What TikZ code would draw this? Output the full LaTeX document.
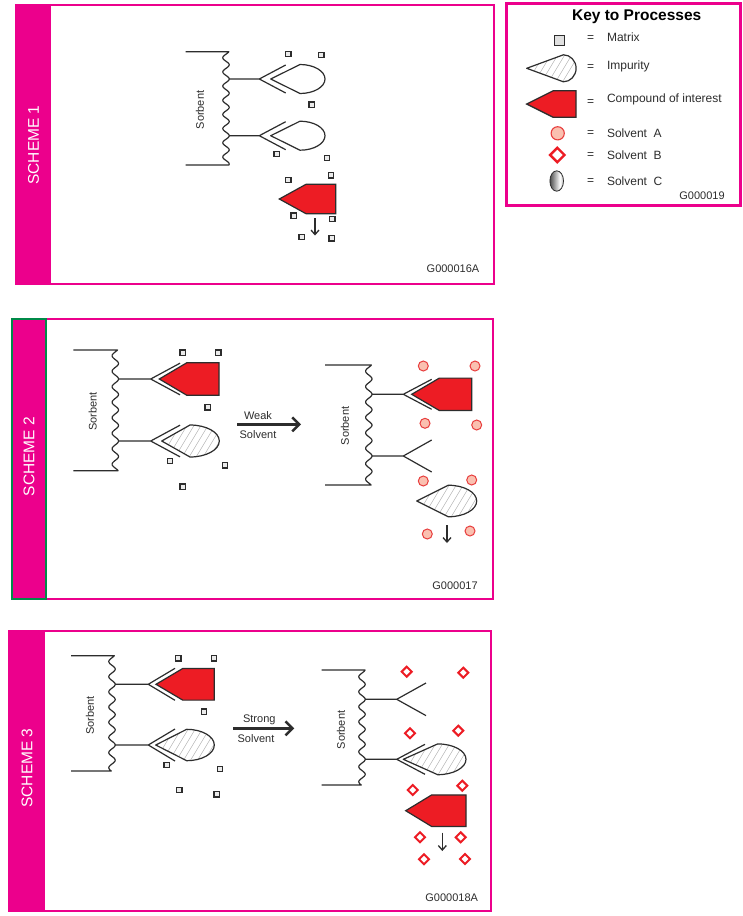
\documentclass[tikz,border=0pt]{standalone}
\usepackage{fontspec}
\setmainfont{Liberation Sans}
\usetikzlibrary{arrows.meta}

\definecolor{schemepink}{RGB}{236,0,140}
\definecolor{bandgreen}{RGB}{0,138,72}
\definecolor{cmpred}{RGB}{237,28,36}
\definecolor{solvafill}{RGB}{250,192,176}
\definecolor{solvaline}{RGB}{232,62,62}
\definecolor{inkgray}{RGB}{45,45,45}

\pgfdeclarehorizontalshading{solvc}{100bp}{color(0bp)=(black!85); color(25bp)=(black!70); color(62bp)=(white); color(85bp)=(black!45); color(100bp)=(black!75)}

\newcommand\setfs[1]{\fontsize{#1}{#1}\selectfont}

% sorbent wall: #1 left x, #2 wave centre x, #3 top y, #4 bottom y, #5 upper arm y, #6 lower arm y
\newcommand\sorbentwall[6]{%
  \pgfmathsetmacro\wavek{360*4/(#6-#5)}%
  \draw[chain] (#1,#3) -- ({#2+3.2*cos(\wavek*(#3-#5))},#3)
    -- plot[domain=#3:#4, samples=160, variable=\t] ({#2+3.2*cos(\wavek*(\t-#5))},\t)
    -- (#1,#4);
}
% binding site: #1 arm start x, #2 y, #3 fork tip x, #4 fork dx, #5 fork dy
\newcommand\bindsite[5]{%
  \draw[chain] (#1,#2) -- (#3,#2) (#3+#4,#2-#5) -- (#3,#2) -- (#3+#4,#2+#5);
}
% impurity teardrop: #1,#2 tip, #3 straight length, #4 half height, #5 round length, #6 hatched (1/0)
\newcommand\teardrop[6]{%
  \ifnum#6=1
  \begin{scope}
    \clip (#1,#2) -- (#1+#3,#2-#4) .. controls (#1+#3+0.552*#5,#2-#4) and (#1+#3+#5,#2-0.552*#4) .. (#1+#3+#5,#2)
      .. controls (#1+#3+#5,#2+0.552*#4) and (#1+#3+0.552*#5,#2+#4) .. (#1+#3,#2+#4) -- cycle;
    \foreach \k in {0,...,15} \draw[hatch] ({#1-24+7*\k},{#2+20}) -- ++(24,-40);
  \end{scope}
  \fi
  \draw[outline] (#1,#2) -- (#1+#3,#2-#4) .. controls (#1+#3+0.552*#5,#2-#4) and (#1+#3+#5,#2-0.552*#4) .. (#1+#3+#5,#2)
      .. controls (#1+#3+#5,#2+0.552*#4) and (#1+#3+0.552*#5,#2+#4) .. (#1+#3,#2+#4) -- cycle;
}
% compound of interest: #1,#2 tip, #3 slanted length, #4 body length, #5 half height
\newcommand\compound[5]{%
  \draw[cmp] (#1,#2) -- (#1+#3,#2-#5) -- (#1+#3+#4,#2-#5) -- (#1+#3+#4,#2+#5) -- (#1+#3,#2+#5) -- cycle;
}
\newcommand\mtx[2]{\draw[mtxsq] (#1-2.8,#2-2.8) rectangle (#1+2.8,#2+2.8);}
\newcommand\solva[2]{\draw[solvastyle] (#1,#2) circle[radius=5];}
\newcommand\solvb[2]{\draw[solvbstyle] (#1,#2-5) -- (#1+5,#2) -- (#1,#2+5) -- (#1-5,#2) -- cycle;}

\tikzset{
  chain/.style={draw=inkgray, line width=1.2pt, line join=round},
  outline/.style={draw=inkgray, line width=1.2pt, line join=round},
  hatch/.style={draw=black!35, line width=0.4pt},
  cmp/.style={draw=inkgray, fill=cmpred, line width=1.2pt, line join=miter},
  mtxsq/.style={draw=inkgray, fill=black!8, line width=1.3pt},
  solvastyle/.style={draw=solvaline, fill=solvafill, line width=1pt},
  solvbstyle/.style={draw=cmpred, fill=white, line width=2pt, line join=miter},
  frame/.style={draw=schemepink, line width=2pt},
  band/.style={fill=schemepink},
  bandtext/.style={text=white, rotate=90, font=\setfs{15.5}},
  sorblabel/.style={text=inkgray, rotate=90, font=\setfs{11}},
  codelabel/.style={text=inkgray, font=\setfs{11}},
  keytext/.style={text=inkgray, font=\setfs{12}, anchor=west},
  keyeq/.style={text=inkgray, font=\setfs{12}},
  droparrow/.style={draw=inkgray, line width=1.3pt, -{Straight Barb[length=4.5pt,width=8pt,line width=1.3pt]}},
  solvarrow/.style={draw=inkgray, line width=2.5pt, -{Straight Barb[length=7pt,width=14pt,line width=2.5pt]}},
  arrowtext/.style={text=inkgray, font=\setfs{11}}
}

\begin{document}
\begin{tikzpicture}[x=1pt, y=-1pt]
\useasboundingbox (0,0) rectangle (743,916);
\fill[white] (0,0) rectangle (743,916);

% ---------------- Scheme 1 ----------------
\fill[band] (16,5) rectangle (51,284);
\draw[frame] (16,5) rectangle (494,284);
\node[bandtext] (s1title) at (33.5,145) {SCHEME 1};
\sorbentwall{185.7}{226}{51.7}{165}{79}{135.7}
\node[sorblabel] (s1sorb) at (200,110) {Sorbent};
\bindsite{229}{79}{259.3}{26.4}{14}
\bindsite{229}{135.7}{259.3}{26.4}{14}
\teardrop{270.7}{79}{29.3}{14.5}{25}{0}
\teardrop{270.7}{135.7}{29.3}{14.5}{25}{0}
\compound{279.3}{199}{26.7}{29.7}{14.7}
\coordinate (s1dropa) at (315,218);
\coordinate (s1dropb) at (315,235.5);
\draw[droparrow] (s1dropa) -- (s1dropb);
\mtx{288.3}{54} \mtx{321.3}{55} \mtx{311.7}{104.7} \mtx{276.7}{154} \mtx{327}{158}
\mtx{331}{175.3} \mtx{288.3}{180} \mtx{293.7}{215.7} \mtx{332.3}{219} \mtx{301.7}{237} \mtx{331.7}{238.3}
\node[codelabel] (s1code) at (453,269) {G000016A};

% ---------------- Key ----------------
\draw[draw=schemepink, line width=2.5pt] (506.7,3.3) rectangle (740.7,205.7);
\node[text=black, font=\bfseries\setfs{15.5}] (keytitle) at (636.7,17) {Key to Processes};
\draw[draw=inkgray, fill=black!12, line width=1.4pt] (554.3,35.7) rectangle (564.3,45.7);
\teardrop{526.7}{68.3}{36.7}{13.5}{12.7}{1}
\draw[cmp, line width=1.3pt] (526.7,104) -- (553.3,90.7) -- (576,90.7) -- (576,117.3) -- (553.3,117.3) -- cycle;
\draw[draw=solvaline, fill=solvafill, line width=1.1pt] (557.7,133.3) circle[radius=6.6];
\draw[solvbstyle, line width=2.4pt] (557.3,147.8) -- (564.5,155) -- (557.3,162.2) -- (550.1,155) -- cycle;
\draw[draw=inkgray, line width=0.8pt, shading=solvc] (556.7,181) ellipse[x radius=6.8, y radius=10.2];
\node[keyeq] (eq1) at (590.7,39) {=};
\node[keyeq] (eq2) at (590.7,68) {=};
\node[keyeq] (eq3) at (590.7,103) {=};
\node[keyeq] (eq4) at (590.7,134) {=};
\node[keyeq] (eq5) at (590.7,156) {=};
\node[keyeq] (eq6) at (590.7,182) {=};
\node[keytext] (k1) at (603.5,37.7) {Matrix};
\node[keytext] (k2) at (603.5,66.7) {Impurity};
\node[keytext] (k3) at (603.5,99.7) {Compound of interest};
\node[keytext] (k4) at (603.5,133) {Solvent\ \ A};
\node[keytext] (k5) at (603.5,155) {Solvent\ \ B};
\node[keytext] (k6) at (603.5,181) {Solvent\ \ C};
\node[codelabel] (keycode) at (702,196) {G000019};

% ---------------- Scheme 2 ----------------
\fill[band] (12.3,319.3) rectangle (45.7,599);
\draw[frame] (12.3,319.3) rectangle (492.5,599);
\draw[draw=bandgreen, line width=2.3pt] (12.3,319.3) rectangle (45.7,599);
\node[bandtext] (s2title) at (29,456.7) {SCHEME 2};
% before washing
\sorbentwall{73.3}{115.3}{350}{470.7}{379}{441}
\node[sorblabel] (s2sorba) at (92.7,411.7) {Sorbent};
\bindsite{118.3}{379}{150.7}{29.3}{15.8}
\bindsite{118.3}{441}{150.7}{29.3}{15.8}
\compound{159.3}{379}{27.4}{32.3}{16.2}
\teardrop{161.7}{441}{28.3}{16}{29.3}{1}
\mtx{182.7}{352.7} \mtx{218.3}{352.7} \mtx{207.7}{407.3} \mtx{170}{461} \mtx{225}{465.3} \mtx{182.7}{486.7}
% weak solvent step
\coordinate (s2arra) at (237.3,424.3);
\coordinate (s2arrb) at (301,424.3);
\draw[solvarrow] (s2arra) -- (s2arrb);
\node[arrowtext] (s2weak) at (258,415.5) {Weak};
\node[arrowtext] (s2solv) at (258,434.3) {Solvent};
% after washing
\sorbentwall{325}{368.8}{365}{485}{394.3}{456}
\node[sorblabel] (s2sorbb) at (345,426) {Sorbent};
\bindsite{371.8}{394.3}{403.3}{28.4}{15}
\bindsite{371.8}{456}{403.3}{28.4}{16}
\compound{411.7}{394.3}{27.6}{32.4}{16.2}
\teardrop{416.7}{501}{31.6}{15.8}{28.4}{1}
\coordinate (s2dropa) at (447,525);
\coordinate (s2dropb) at (447,543);
\draw[droparrow] (s2dropa) -- (s2dropb);
\solva{423.3}{366} \solva{475}{366} \solva{425}{423.3} \solva{476.7}{425}
\solva{423.3}{481} \solva{471.7}{480} \solva{427.3}{534} \solva{470}{531}
\node[codelabel] (s2code) at (455,585.7) {G000017};

% ---------------- Scheme 3 ----------------
\fill[band] (9.3,630.7) rectangle (45,910.5);
\draw[frame] (9.3,630.7) rectangle (491,910.5);
\node[bandtext] (s3title) at (27,768) {SCHEME 3};
% before elution
\sorbentwall{71}{112}{655.7}{771}{684.3}{745}
\node[sorblabel] (s3sorba) at (90,715.7) {Sorbent};
\bindsite{115}{684.3}{148.3}{26.7}{16}
\bindsite{115}{745}{148.3}{26.7}{16}
\compound{156}{684.3}{26.7}{31.6}{15.8}
\teardrop{155.7}{745}{31}{15.7}{27.6}{1}
\mtx{178.3}{658.3} \mtx{214}{658.3} \mtx{204}{711.7} \mtx{166.7}{765} \mtx{220}{769} \mtx{179.3}{790} \mtx{216.7}{794.3}
% strong solvent step
\coordinate (s3arra) at (233.3,728.3);
\coordinate (s3arrb) at (294.3,728.3);
\draw[solvarrow] (s3arra) -- (s3arrb);
\node[arrowtext] (s3strong) at (259.3,720) {Strong};
\node[arrowtext] (s3solv) at (256,739) {Solvent};
% after elution
\sorbentwall{321.7}{362}{670}{785}{699.3}{759.3}
\node[sorblabel] (s3sorbb) at (341,730) {Sorbent};
\bindsite{365}{699.3}{396.7}{29.3}{16.3}
\bindsite{365}{759.3}{396.7}{28.3}{15}
\teardrop{403.3}{759.3}{34.4}{15.4}{28.3}{1}
\compound{405.7}{810.7}{26}{34.3}{15.8}
\coordinate (s3dropa) at (442.3,832.7);
\coordinate (s3dropb) at (442.3,851);
\draw[droparrow] (s3dropa) -- (s3dropb);
\solvb{406.7}{671.7} \solvb{463.3}{672.7} \solvb{410}{733.3} \solvb{458.3}{730.7} \solvb{412.7}{790}
\solvb{462.3}{785.7} \solvb{420}{837.3} \solvb{460.7}{837.3} \solvb{424}{859.3} \solvb{465}{859}
\node[codelabel] (s3code) at (451.7,897.7) {G000018A};
\end{tikzpicture}
\end{document}
